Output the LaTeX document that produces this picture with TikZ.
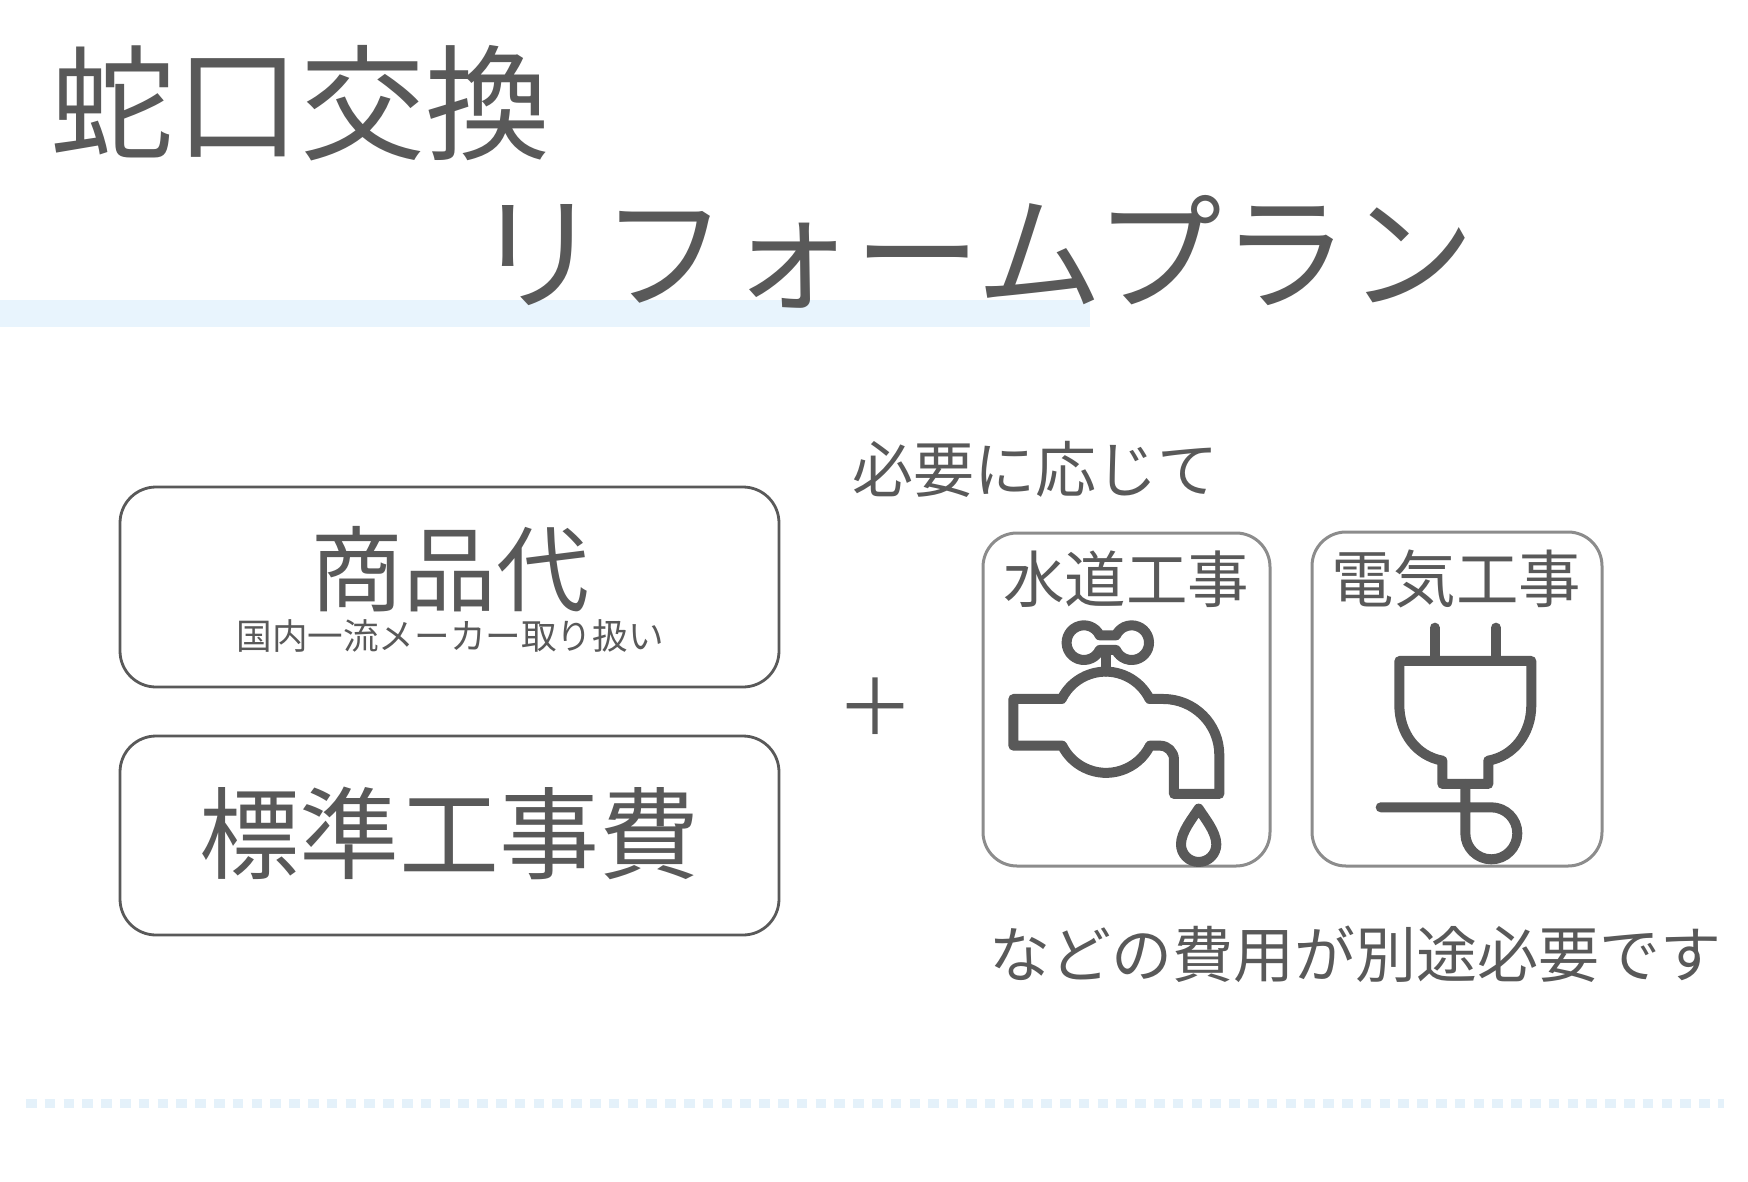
\documentclass[tikz,border=0pt]{standalone}
\usepackage{fontspec}
\setmainfont{Noto Sans CJK JP}
\usetikzlibrary{positioning}
\definecolor{inkgray}{HTML}{595959}
\definecolor{framegray}{HTML}{8C8C8C}
\definecolor{barblue}{HTML}{E8F4FD}
\definecolor{dotblue}{HTML}{E4F1FA}

\begin{document}
\begin{tikzpicture}[
    x=1pt, y=-1pt,
    % Text styles
    every node/.style={
        inner sep=0pt,
        align=center,
        text=inkgray
    },
    % Box styles
    cost box/.style={
        rounded corners=36pt,
        draw=inkgray,
        line width=2.8pt,
        fill=white
    },
    work box/.style={
        rounded corners=34pt,
        draw=framegray,
        line width=3pt,
        fill=white
    },
    icon line/.style={
        draw=inkgray,
        line width=10pt,
        line join=round,
        line cap=round
    }
]
    % Page and bars
    \useasboundingbox (0,0) rectangle (1748,1181);
    \fill[white] (0,0) rectangle (1748,1181);
    \fill[barblue] (0,300) rectangle (1090,327);
    \draw[dotblue, line width=9pt, dash pattern=on 10.5pt off 8.3pt] (26,1103) -- (1724,1103);

    % Title
    \node[font=\fontsize{125}{125}\selectfont] (snake) at (300,103) {蛇口交換};
    \node[font=\fontsize{126.5}{126}\selectfont] (plan) at (975,252) {リフォームプラン};

    % Cost boxes
    \draw[cost box] (120,487) rectangle (779,687);
    \draw[cost box] (120,736) rectangle (779,935);
    \node[font=\fontsize{93}{93}\selectfont] (goods) at (450,569) {商品代};
    \node[font=\fontsize{35.6}{36}\selectfont] (maker) at (450,636) {国内一流メーカー取り扱い};
    \node[font=\fontsize{100}{100}\selectfont] (standard) at (449,833) {標準工事費};

    % Plus and notes
    \node[font=\fontsize{78}{78}\selectfont] (plus) at (875,707) {＋};
    \node[font=\fontsize{61}{61}\selectfont] (needed) at (1035,469) {必要に応じて};
    \node[font=\fontsize{61}{61}\selectfont] (others) at (1355,954) {などの費用が別途必要です};

    % Work boxes
    \draw[work box] (983,533) rectangle (1270,866);
    \draw[work box] (1312,532) rectangle (1602,866);
    \node[font=\fontsize{61.5}{62}\selectfont] (water) at (1126,579) {水道工事};
    \node[font=\fontsize{62.5}{62}\selectfont] (power) at (1456,579) {電気工事};

    % Faucet
    \begin{scope}[shift={(960,520)}, x=0.3333pt, y=-0.3333pt]
        \draw[icon line] (437,392) -- (437,455);
        \draw[icon line] (419,346) arc[start angle=-25, end angle=-335, radius=52]
            -- (468,390) arc[start angle=155, end angle=-155, radius=52] -- cycle;
        \draw[icon line] (160,537) -- (305,537)
            arc[start angle=206.2, end angle=333.8, radius=147]
            -- (610,537) arc[start angle=-90, end angle=0, radius=168]
            -- (778,822) -- (642,822) -- (642,719)
            arc[start angle=0, end angle=-90, radius=42]
            -- (570,677) arc[start angle=26.4, end angle=153.6, radius=147]
            -- (160,677) -- cycle;
        \draw[icon line] (716,866) .. controls (700,892) and (663,935) .. (663,973)
            arc[start angle=180, end angle=0, radius=53]
            .. controls (769,935) and (732,892) .. cycle;
    \end{scope}

    % Plug
    \begin{scope}[shift={(1290,520)}, x=0.3333pt, y=-0.3333pt]
        \draw[icon line] (434,323) -- (434,423);
        \draw[icon line] (618,323) -- (618,423);
        \draw[icon line] (328,423) -- (328,555)
            .. controls (328,640) and (380,708) .. (457,722)
            -- (457,792) -- (595,792) -- (595,722)
            .. controls (672,708) and (724,640) .. (724,555)
            -- (724,423) -- cycle;
        \draw[icon line] (272,862) -- (604,862)
            arc[start angle=-90, end angle=180, radius=78] -- (526,792);
    \end{scope}
\end{tikzpicture}
\end{document}
